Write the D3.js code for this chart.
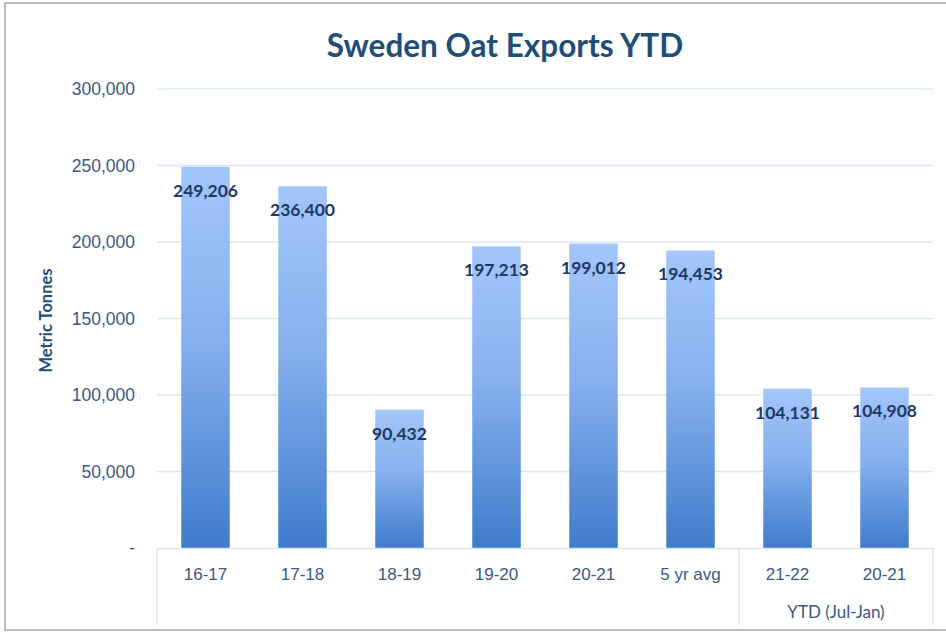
<!DOCTYPE html>
<html>
<head>
<meta charset="utf-8">
<script src="https://cdn.jsdelivr.net/npm/d3@7"></script>
<style>
  body { margin: 0; background: #fff; }
  svg { font-family: Lato, "Open Sans", sans-serif; }
</style>
</head>
<body>
<div id="chart"></div>
<script>
const categories = ["16-17", "17-18", "18-19", "19-20", "20-21", "5 yr avg", "21-22", "20-21 "];
const exports = [249206, 236400, 90432, 197213, 199012, 194453, 104131, 104908];
const yTicks = [0, 50000, 100000, 150000, 200000, 250000, 300000];
const groupLabel = "YTD (Jul-Jan)";

const W = 946, H = 633;
const margin = {top: 89, left: 157};
const width = 933 - margin.left, height = 548 - margin.top;

const svg = d3.select("#chart").append("svg").attr("width", W).attr("height", H);

// outer frame
svg.append("rect").attr("x", 5).attr("y", 3).attr("width", 960).attr("height", 627)
  .attr("fill", "none").attr("stroke", "#a6a6a6").attr("stroke-width", 1.5);

const defs = svg.append("defs");
const grad = defs.append("linearGradient").attr("id", "barGrad")
  .attr("x1", 0).attr("y1", 0).attr("x2", 0).attr("y2", 1);
grad.append("stop").attr("offset", "0%").attr("stop-color", "#a3c6fb");
grad.append("stop").attr("offset", "45%").attr("stop-color", "#86b0ee");
grad.append("stop").attr("offset", "100%").attr("stop-color", "#3f7ccb");

const g = svg.append("g").attr("transform", `translate(${margin.left},${margin.top})`);

const x = d3.scaleBand().domain(categories).range([0, width]).paddingInner(0.5).paddingOuter(0.25);
const y = d3.scaleLinear().domain([0, 300000]).range([height, 0]);

// gridlines
g.selectAll(".grid").data(yTicks.filter(d => d > 0)).enter().append("line")
  .attr("x1", 0).attr("x2", width)
  .attr("y1", d => y(d)).attr("y2", d => y(d))
  .attr("stroke", "#dce7f4").attr("stroke-width", 1.5);

// y axis
const yAxis = d3.axisLeft(y).tickValues(yTicks)
  .tickFormat(d => d === 0 ? "-" : d3.format(",")(d)).tickSize(0).tickPadding(22);
g.append("g").call(yAxis)
  .call(a => a.select(".domain").remove())
  .selectAll("text").attr("fill", "#3b5787").attr("font-size", 17.5);

// bars
g.selectAll(".bar").data(exports).enter().append("rect")
  .attr("x", (d, i) => x(categories[i]))
  .attr("y", d => y(d))
  .attr("width", x.bandwidth())
  .attr("height", d => height - y(d))
  .attr("fill", "url(#barGrad)");

// data labels
g.selectAll(".lbl").data(exports).enter().append("text")
  .attr("x", (d, i) => x(categories[i]) + x.bandwidth() / 2)
  .attr("y", d => y(d) + 30)
  .attr("text-anchor", "middle")
  .attr("font-size", 17.5).attr("font-weight", "bold").attr("fill", "#1f3864")
  .text(d => d3.format(",")(d));

// x axis
const xAxis = d3.axisBottom(x).tickSize(0).tickPadding(20);
g.append("g").attr("transform", `translate(0,${height})`).call(xAxis)
  .call(a => a.select(".domain").attr("stroke", "#dce7f4").attr("stroke-width", 1.5))
  .selectAll("text").attr("fill", "#3b5787").attr("font-size", 17);

// group separators
const sepX = [0, x("21-22") - x.step() * x.paddingInner() / 2, width];
g.selectAll(".sep").data(sepX).enter().append("line")
  .attr("x1", d => d).attr("x2", d => d)
  .attr("y1", height).attr("y2", height + 77)
  .attr("stroke", "#dce7f4").attr("stroke-width", 1.5);

g.append("text")
  .attr("x", (sepX[1] + sepX[2]) / 2).attr("y", height + 70)
  .attr("text-anchor", "middle").attr("font-size", 17).attr("fill", "#3b5787")
  .text(groupLabel);

// y title
svg.append("text")
  .attr("transform", `translate(52,${margin.top + height / 2 + 2}) rotate(-90)`)
  .attr("text-anchor", "middle").attr("font-size", 16.5).attr("font-weight", "bold")
  .attr("fill", "#1f4e79").text("Metric Tonnes");

// title
svg.append("text")
  .attr("x", 505).attr("y", 57).attr("text-anchor", "middle")
  .attr("font-size", 31.5).attr("font-weight", "bold").attr("fill", "#1f4e79")
  .text("Sweden Oat Exports YTD");
</script>
</body>
</html>
